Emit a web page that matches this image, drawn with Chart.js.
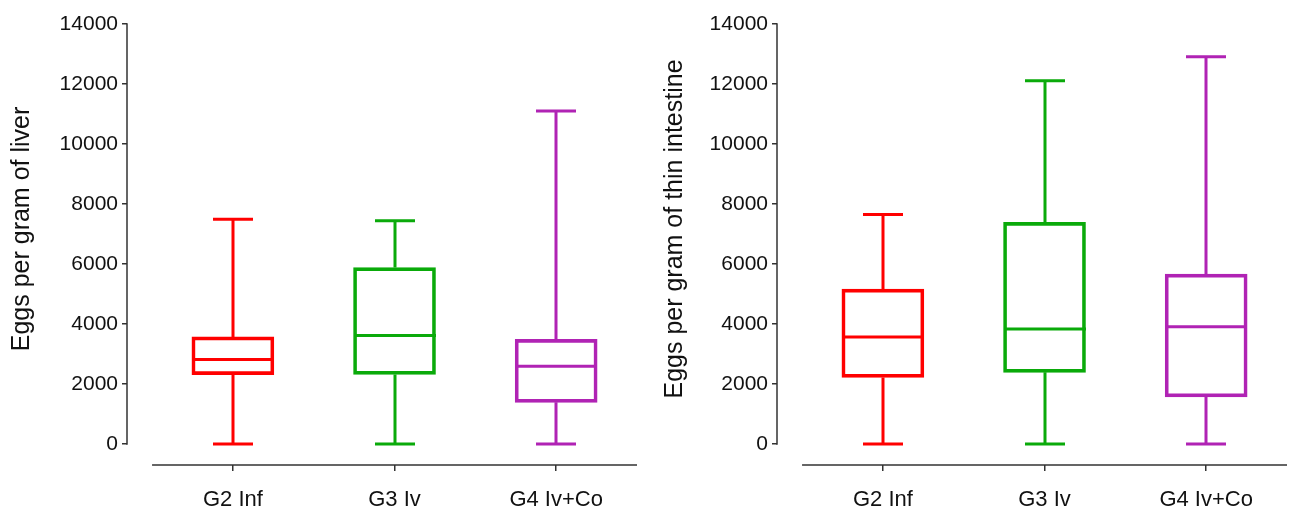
<!DOCTYPE html>
<html>
<head>
<meta charset="utf-8">
<script src="https://cdn.jsdelivr.net/npm/chart.js@4"></script>
<style>
  html, body { margin: 0; padding: 0; background: #ffffff; }
  body { width: 1293px; height: 510px; position: relative; overflow: hidden; }
  .panel { position: absolute; top: 0; height: 510px; }
  #p1 { left: 0; width: 645px; }
  #p2 { left: 650px; width: 643px; }
</style>
</head>
<body>
<div class="panel" id="p1"><canvas id="c1"></canvas></div>
<div class="panel" id="p2"><canvas id="c2"></canvas></div>
<script>
// ---- data ----
const categories = ["G2 Inf", "G3 Iv", "G4 Iv+Co"];
const yTicks = [0, 2000, 4000, 6000, 8000, 10000, 12000, 14000];
const colors = ["#ff0000", "#0aaa0a", "#b023b4"];

const liverMin    = [0, 0, 0];
const liverQ1     = [2310, 2320, 1390];
const liverMedian = [2820, 3620, 2590];
const liverQ3     = [3570, 5880, 3490];
const liverMax    = [7490, 7440, 11100];

const intMin    = [0, 0, 0];
const intQ1     = [2220, 2390, 1570];
const intMedian = [3570, 3830, 3910];
const intQ3     = [5160, 7390, 5660];
const intMax    = [7650, 12110, 12910];

const titleLiver = "Eggs per gram of liver";
const titleInt = "Eggs per gram of thin intestine";

const FONT = "'Liberation Sans', Arial, sans-serif";
const AXIS_COLOR = "#333333";

const boxPlugin = {
  id: 'boxWhiskers',
  afterDatasetsDraw(chart) {
    const bp = chart.options.plugins.boxWhiskers;
    const xs = chart.scales.x, ys = chart.scales.y;
    const ctx = chart.ctx;
    ctx.save();
    ctx.lineWidth = 3;
    ctx.lineCap = 'butt';
    const boxHalf = 41, capHalf = 20;
    for (let i = 0; i < bp.categories.length; i++) {
      const cx = Math.round(xs.getPixelForValue(i));
      const yMin = ys.getPixelForValue(bp.min[i]);
      const yQ1 = ys.getPixelForValue(bp.q1[i]);
      const yMed = ys.getPixelForValue(bp.median[i]);
      const yQ3 = ys.getPixelForValue(bp.q3[i]);
      const yMax = ys.getPixelForValue(bp.max[i]);
      ctx.strokeStyle = bp.colors[i];
      ctx.beginPath();
      ctx.moveTo(cx, yQ3); ctx.lineTo(cx, yMax);
      ctx.moveTo(cx, yQ1); ctx.lineTo(cx, yMin);
      ctx.moveTo(cx - capHalf, yMax); ctx.lineTo(cx + capHalf, yMax);
      ctx.moveTo(cx - capHalf, yMin); ctx.lineTo(cx + capHalf, yMin);
      ctx.moveTo(cx - boxHalf, yMed); ctx.lineTo(cx + boxHalf, yMed);
      ctx.stroke();
    }
    // axis lines
    ctx.strokeStyle = AXIS_COLOR;
    ctx.lineWidth = 1.5;
    ctx.beginPath();
    const axX = chart.chartArea.left;
    ctx.moveTo(axX, ys.getPixelForValue(yTicks[yTicks.length - 1]) - 0.75);
    ctx.lineTo(axX, ys.getPixelForValue(yTicks[0]) + 0.75);
    const axY = chart.chartArea.bottom;
    ctx.moveTo(xs.getPixelForValue(-0.5), axY);
    ctx.lineTo(xs.getPixelForValue(bp.categories.length - 0.5), axY);
    ctx.stroke();
    // y title
    ctx.fillStyle = "#111111";
    ctx.font = "25px " + FONT;
    ctx.textAlign = 'center';
    ctx.textBaseline = 'middle';
    ctx.translate(bp.titleX, bp.titleY);
    ctx.rotate(-Math.PI / 2);
    ctx.fillText(bp.title, 0, 0);
    ctx.restore();
  }
};

function makeChart(id, q1, med, q3, mn, mx, title, titleX, padRight) {
  const boxData = categories.map((c, i) => ({ x: i, y: [q1[i], q3[i]] }));
  return new Chart(document.getElementById(id), {
    type: 'bar',
    data: {
      datasets: [{
        data: boxData,
        backgroundColor: 'rgba(255,255,255,0)',
        borderColor: colors,
        borderWidth: 3,
        borderSkipped: false,
        barThickness: 82
      }]
    },
    options: {
      responsive: true,
      maintainAspectRatio: false,
      animation: false,
      layout: { padding: { top: 24, right: padRight, bottom: 0, left: 0 } },
      plugins: {
        legend: { display: false },
        tooltip: { enabled: false },
        boxWhiskers: { categories, colors, q1, median: med, q3, min: mn, max: mx, title, titleX, titleY: 229 }
      },
      scales: {
        x: {
          type: 'linear',
          offset: false,
          min: -0.655,
          max: 2.5,
          afterBuildTicks: (s) => { s.ticks = categories.map((c, i) => ({ value: i })); },
          afterFit: (s) => { s.height = 45; },
          border: { display: false },
          grid: { offset: false, drawOnChartArea: false, drawTicks: true, tickLength: 6, color: AXIS_COLOR, lineWidth: 1.5 },
          ticks: {
            autoSkip: false,
            maxRotation: 0,
            padding: 16,
            color: "#111111",
            font: { family: FONT, size: 22 },
            callback: (v) => categories[v]
          }
        },
        y: {
          min: -700,
          max: 14000,
          afterBuildTicks: (s) => { s.ticks = yTicks.map(v => ({ value: v })); },
          afterFit: (s) => { s.width = 127; },
          border: { display: false },
          grid: { drawOnChartArea: false, drawTicks: true, tickLength: 5, color: AXIS_COLOR, lineWidth: 1.5 },
          ticks: {
            padding: 4,
            color: "#111111",
            font: { family: FONT, size: 21 },
            callback: (v) => String(v)
          }
        }
      }
    },
    plugins: [boxPlugin]
  });
}

makeChart('c1', liverQ1, liverMedian, liverQ3, liverMin, liverMax, titleLiver, 22, 8);
makeChart('c2', intQ1, intMedian, intQ3, intMin, intMax, titleInt, 25, 6);
</script>
</body>
</html>
